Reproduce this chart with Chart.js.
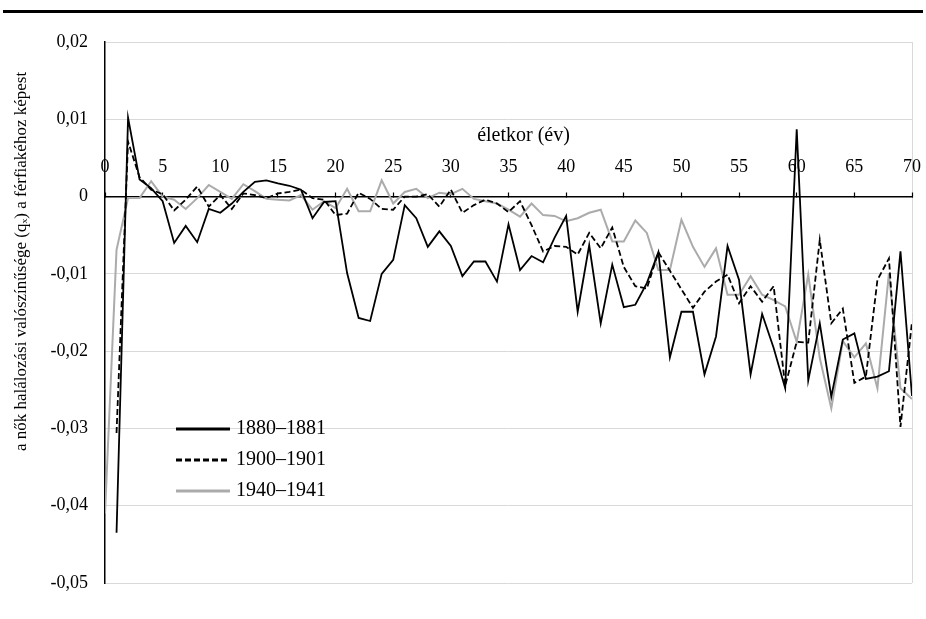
<!DOCTYPE html>
<html lang="hu">
<head>
<meta charset="utf-8">
<title>Női és férfi halálozási valószínűség különbsége</title>
<script src="https://cdn.jsdelivr.net/npm/chart.js@4.4.1/dist/chart.umd.min.js"></script>
<style>
    html, body { margin: 0; padding: 0; background: #fff; }
    #wrap { position: relative; width: 926px; height: 619px; }
    #rule { position: absolute; left: 3px; right: 3px; top: 10px; height: 3px; background: #000; }
</style>
</head>
<body>
<div id="wrap">
    <canvas id="chart"></canvas>
    <div id="rule"></div>
</div>
<script>
// életkor (év), 0-70
const ages = [
    0, 1, 2, 3, 4, 5, 6, 7, 8, 9, 10, 11, 12, 13, 14, 15, 16, 17, 18, 19,
    20, 21, 22, 23, 24, 25, 26, 27, 28, 29, 30, 31, 32, 33, 34, 35, 36, 37, 38, 39,
    40, 41, 42, 43, 44, 45, 46, 47, 48, 49, 50, 51, 52, 53, 54, 55, 56, 57, 58, 59,
    60, 61, 62, 63, 64, 65, 66, 67, 68, 69, 70
];

const seriesLabels = ['1880–1881', '1900–1901', '1940–1941'];

const s1880 = [
    null, -0.0435, 0.0102, 0.0022, 0.0011, -0.0006, -0.0060, -0.0038, -0.0059, -0.0016,
    -0.0021, -0.0009, 0.0006, 0.0019, 0.0021, 0.0017, 0.0014, 0.0009, -0.0028, -0.0007,
    -0.0006, -0.0099, -0.0157, -0.0161, -0.0100, -0.0082, -0.0011, -0.0028, -0.0065, -0.0045,
    -0.0064, -0.0103, -0.0084, -0.0084, -0.0110, -0.0036, -0.0095, -0.0077, -0.0085, -0.0053,
    -0.0025, -0.0149, -0.0063, -0.0164, -0.0088, -0.0143, -0.0140, -0.0112, -0.0072, -0.0208,
    -0.0149, -0.0149, -0.0230, -0.0181, -0.0064, -0.0108, -0.0230, -0.0152, -0.0196, -0.0248,
    0.0087, -0.0238, -0.0164, -0.0259, -0.0185, -0.0177, -0.0236, -0.0233, -0.0226, -0.0071,
    -0.0258
];

const s1900 = [
    null, -0.0306, 0.0071, 0.0025, 0.0009, 0.0003, -0.0018, -0.0004, 0.0013, -0.0013,
    0.0002, -0.0016, 0.0004, 0.0002, -0.0002, 0.0004, 0.0006, 0.0009, -0.0002, -0.0004,
    -0.0024, -0.0022, 0.0005, -0.0003, -0.0016, -0.0017, 0.0000, 0.0000, 0.0003, -0.0013,
    0.0009, -0.0021, -0.0011, -0.0004, -0.0009, -0.0020, -0.0006, -0.0037, -0.0071, -0.0064,
    -0.0065, -0.0075, -0.0047, -0.0067, -0.0040, -0.0091, -0.0116, -0.0119, -0.0072, -0.0096,
    -0.0120, -0.0144, -0.0123, -0.0110, -0.0101, -0.0138, -0.0116, -0.0136, -0.0116, -0.0245,
    -0.0188, -0.0189, -0.0056, -0.0164, -0.0145, -0.0241, -0.0233, -0.0108, -0.0080, -0.0298,
    -0.0162
];

const s1940 = [
    -0.0410, -0.0069, -0.0002, -0.0002, 0.0020, 0.0000, -0.0004, -0.0016, -0.0002, 0.0015,
    0.0006, -0.0003, 0.0016, 0.0007, -0.0003, -0.0004, -0.0005, 0.0002, -0.0017, -0.0006,
    -0.0015, 0.0010, -0.0019, -0.0019, 0.0021, -0.0009, 0.0006, 0.0010, -0.0002, 0.0005,
    0.0003, 0.0010, -0.0003, -0.0006, -0.0009, -0.0017, -0.0026, -0.0009, -0.0024, -0.0025,
    -0.0032, -0.0028, -0.0021, -0.0017, -0.0058, -0.0058, -0.0031, -0.0047, -0.0095, -0.0095,
    -0.0030, -0.0065, -0.0091, -0.0067, -0.0127, -0.0127, -0.0103, -0.0127, -0.0134, -0.0142,
    -0.0188, -0.0101, -0.0209, -0.0274, -0.0187, -0.0208, -0.0190, -0.0248, -0.0099, -0.0248,
    -0.0262
];

const xTickValues = [0, 5, 10, 15, 20, 25, 30, 35, 40, 45, 50, 55, 60, 65, 70];
const yTickValues = [-0.05, -0.04, -0.03, -0.02, -0.01, 0, 0.01, 0.02];

const xTitle = '\u2003\u2002életkor (év)';
// leading em spaces push the rotated title up, as in the original
const yTitle = '\u2003'.repeat(6) + 'a nők halálozási valószínűsége (qₓ) a férfiakéhoz képest';

const FONT = '"Liberation Serif", "Times New Roman", serif';
Chart.defaults.font.family = FONT;
Chart.defaults.color = '#000';

const toPoints = (values) => ages.map((a, i) => ({ x: a, y: values[i] }));

const fmtComma = (v) => {
    if (v === 0) return '0';
    return (Math.round(v * 100) / 100).toFixed(2).replace('.', ',');
};

// legend drawn inside the plot area, lower left
const inlineLegend = {
    id: 'inlineLegend',
    afterDatasetsDraw(chart, args, opts) {
        const { ctx, chartArea } = chart;
        ctx.save();
        ctx.font = opts.font;
        ctx.textBaseline = 'middle';
        ctx.textAlign = 'left';
        chart.data.datasets.forEach((ds, i) => {
            const x = chartArea.left + opts.offsetX;
            const y = chartArea.top + opts.offsetY + i * opts.spacing;
            ctx.beginPath();
            ctx.setLineDash(ds.borderDash || []);
            ctx.strokeStyle = ds.borderColor;
            ctx.lineWidth = opts.lineWidth;
            ctx.moveTo(x, y);
            ctx.lineTo(x + opts.lineLength, y);
            ctx.stroke();
            ctx.setLineDash([]);
            ctx.fillStyle = '#000';
            ctx.fillText(ds.label, x + opts.lineLength + opts.gap, y);
        });
        ctx.restore();
    }
};

new Chart(document.getElementById('chart'), {
    type: 'line',
    data: {
        datasets: [
            {
                label: seriesLabels[0],
                data: toPoints(s1880),
                borderColor: '#000',
                borderWidth: 1.8
            },
            {
                label: seriesLabels[1],
                data: toPoints(s1900),
                borderColor: '#000',
                borderWidth: 1.8,
                borderDash: [6, 3]
            },
            {
                label: seriesLabels[2],
                data: toPoints(s1940),
                borderColor: '#ababab',
                borderWidth: 2
            }
        ]
    },
    options: {
        responsive: true,
        maintainAspectRatio: false,
        animation: false,
        layout: { padding: { left: 0, right: 14, top: 42, bottom: 36 } },
        elements: {
            point: { radius: 0, hoverRadius: 0 },
            line: { tension: 0 }
        },
        plugins: {
            legend: { display: false },
            tooltip: { enabled: false },
            inlineLegend: {
                font: '20px ' + FONT,
                offsetX: 71,
                offsetY: 387,
                spacing: 31,
                lineLength: 54,
                gap: 6,
                lineWidth: 3
            }
        },
        scales: {
            x: {
                type: 'linear',
                position: { y: 0 },
                min: 0,
                max: 70,
                afterBuildTicks: (scale) => {
                    scale.ticks = xTickValues.map(v => ({ value: v }));
                },
                grid: {
                    drawOnChartArea: true,
                    color: (ctx) => (ctx.tick && ctx.tick.value === 70 ? '#d9d9d9' : 'rgba(0,0,0,0)'),
                    tickColor: '#000',
                    tickLength: -5,
                    tickWidth: 1.2
                },
                border: { display: true, color: '#000', width: 1.5 },
                ticks: {
                    font: { size: 18 },
                    padding: -35,
                    maxRotation: 0,
                    minRotation: 0,
                    autoSkip: false
                },
                title: {
                    display: true,
                    text: xTitle,
                    font: { size: 20 },
                    padding: { top: -19, bottom: 0 }
                }
            },
            y: {
                type: 'linear',
                position: 'left',
                min: -0.05,
                max: 0.02,
                afterBuildTicks: (scale) => {
                    scale.ticks = yTickValues.map(v => ({ value: v }));
                },
                afterFit: (scale) => { scale.width = 105; },
                grid: {
                    color: '#d9d9d9',
                    lineWidth: 1,
                    drawTicks: false
                },
                border: { display: true, color: '#000', width: 1.5 },
                ticks: {
                    font: { size: 18 },
                    padding: 17,
                    callback: (v) => fmtComma(v)
                },
                title: {
                    display: true,
                    text: yTitle,
                    font: { size: 17 },
                    padding: { top: 11, bottom: 0 }
                }
            }
        }
    },
    plugins: [inlineLegend]
});
</script>
</body>
</html>
